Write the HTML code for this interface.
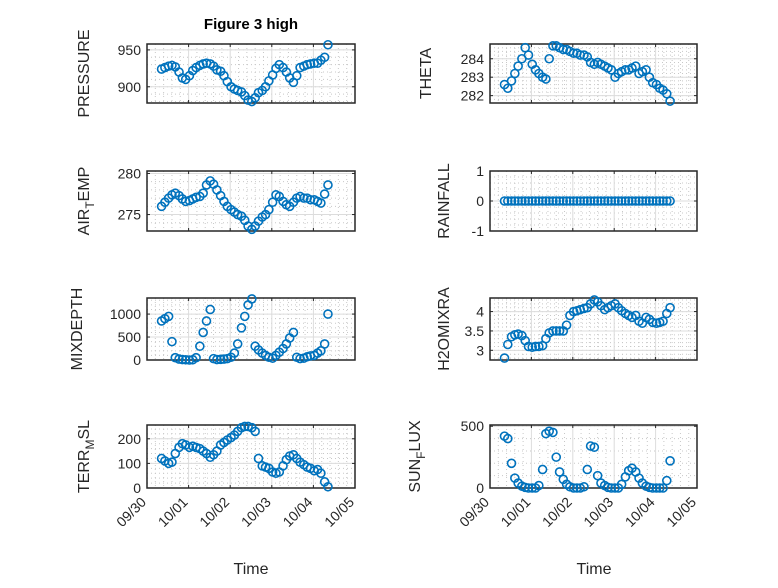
<!DOCTYPE html>
<html><head><meta charset="utf-8"><style>
html,body{margin:0;padding:0;background:#fff;}
svg text{font-family:"Liberation Sans",sans-serif;fill:#262626;}
</style></head><body>
<svg id="fig" width="778" height="583" viewBox="0 0 778 583" xmlns="http://www.w3.org/2000/svg">
<rect x="0" y="0" width="778" height="583" fill="#fff"/>
<text x="251" y="29" text-anchor="middle" font-size="15" font-weight="bold" style="fill:#000">Figure 3 high</text>
<text x="251" y="574" text-anchor="middle" font-size="16">Time</text>
<text x="594" y="574" text-anchor="middle" font-size="16">Time</text>
</svg>
<script>
// time in days since 09/30, 2-hour steps
const times = [0.35,0.43,0.52,0.60,0.68,0.77,0.85,0.93,1.02,1.10,1.18,1.27,1.35,1.43,1.52,1.60,1.68,1.77,1.85,1.93,2.02,2.10,2.18,2.27,2.35,2.43,2.52,2.60,2.68,2.77,2.85,2.93,3.02,3.10,3.18,3.27,3.35,3.43,3.52,3.60,3.68,3.77,3.85,3.93,4.02,4.10,4.18,4.27,4.35];
const xTickLabels = ["09/30","10/01","10/02","10/03","10/04","10/05"];
const pressure = [924,926,928,929,927,920,912,910,915,922,926,929,931,932,931,928,923,921,915,907,900,897,895,893,888,882,880,885,892,895,900,908,916,925,930,926,920,912,906,915,926,928,930,931,932,932,936,940,957];
const airTemp = [276.0,276.5,277.0,277.4,277.6,277.3,276.9,276.6,276.7,276.9,277.1,277.2,277.6,278.6,279.1,278.7,278.0,277.3,276.6,276.0,275.6,275.3,275.0,274.8,274.3,273.6,273.2,273.6,274.2,274.7,275.0,275.6,276.5,277.4,277.2,276.6,276.2,276.0,276.5,277.0,277.2,277.0,277.0,276.8,276.8,276.6,276.4,277.5,278.6];
const theta = [282.6,282.4,282.8,283.2,283.6,284.0,284.6,284.2,283.7,283.4,283.2,283.0,282.9,284.0,284.7,284.7,284.6,284.5,284.5,284.4,284.3,284.3,284.2,284.2,284.1,283.8,283.7,283.8,283.7,283.6,283.5,283.4,283.0,283.2,283.3,283.4,283.4,283.5,283.6,283.2,283.3,283.4,283.0,282.7,282.6,282.4,282.3,282.1,281.7];
const rainfall = [0,0,0,0,0,0,0,0,0,0,0,0,0,0,0,0,0,0,0,0,0,0,0,0,0,0,0,0,0,0,0,0,0,0,0,0,0,0,0,0,0,0,0,0,0,0,0,0,0];
const mixDepth = [850,900,950,400,50,20,10,5,0,5,50,300,600,850,1100,30,10,15,20,30,60,150,350,700,950,1200,1330,300,220,150,100,60,40,100,170,250,350,480,600,60,30,40,70,90,100,150,200,350,1000];
const h2oMixRa = [2.8,3.15,3.35,3.4,3.42,3.38,3.25,3.1,3.08,3.1,3.1,3.12,3.3,3.45,3.5,3.5,3.5,3.5,3.65,3.9,4.0,4.02,4.05,4.08,4.1,4.2,4.3,4.25,4.15,4.05,4.1,4.15,4.2,4.1,4.02,3.95,3.9,3.85,3.9,3.75,3.7,3.85,3.8,3.72,3.7,3.72,3.75,3.95,4.1];
const terrMsl = [120,110,100,105,140,165,180,175,165,170,165,160,150,140,125,135,150,175,185,195,205,215,230,245,250,250,245,230,120,90,85,80,65,60,65,90,115,130,135,120,105,95,85,80,70,75,60,25,5];
const sunFlux = [420,400,200,80,40,15,5,0,0,0,20,150,440,460,450,250,130,70,30,10,0,0,0,10,150,340,330,100,40,20,5,0,0,0,30,90,140,160,130,80,40,15,5,0,0,0,0,60,220];

const panels = [
 {name:"pressure",label:["PRESSURE"],data:pressure,col:0,row:0,ylim:[878,958],ticks:[900,950],lx:89},
 {name:"theta",label:["THETA"],data:theta,col:1,row:0,ylim:[281.6,284.8],ticks:[282,283,284],lx:431},
 {name:"air-temp",label:["AIR","T","EMP"],data:airTemp,col:0,row:1,ylim:[273,280.3],ticks:[275,280],lx:89},
 {name:"rainfall",label:["RAINFALL"],data:rainfall,col:1,row:1,ylim:[-1,1],ticks:[-1,0,1],lx:449},
 {name:"mixdepth",label:["MIXDEPTH"],data:mixDepth,col:0,row:2,ylim:[0,1350],ticks:[0,500,1000],lx:82},
 {name:"h2omixra",label:["H2OMIXRA"],data:h2oMixRa,col:1,row:2,ylim:[2.75,4.35],ticks:[3,3.5,4],lx:449},
 {name:"terr-msl",label:["TERR","M","SL"],data:terrMsl,col:0,row:3,ylim:[0,256],ticks:[0,100,200],lx:89},
 {name:"sun-flux",label:["SUN","F","LUX"],data:sunFlux,col:1,row:3,ylim:[0,510],ticks:[0,500],lx:420}
];
const colX = [[147,355],[490,697]];
const rowY = [[44,103],[171,231],[298,360],[425,488]];
const NS = "http://www.w3.org/2000/svg";
const svg = document.getElementById("fig");
function mk(tag, attrs, parent){ const e=document.createElementNS(NS,tag); for(const k in attrs) e.setAttribute(k,attrs[k]); (parent||svg).appendChild(e); return e; }

panels.forEach(p=>{
  const [x0,x1]=colX[p.col], [y0,y1]=rowY[p.row];
  const xs = t => x0 + (t-0)/(5-0)*(x1-x0);
  const ys = v => y1 - (v-p.ylim[0])/(p.ylim[1]-p.ylim[0])*(y1-y0);
  const g = mk("g",{});
  
  
  for(let d=0; d<5; d++) for(let k=1;k<5;k++){
    const x=xs(d+k/5);
    mk("line",{x1:x,x2:x,y1:y0,y2:y1,stroke:"#c8c8c8","stroke-width":1,"stroke-dasharray":"1,3"},g);
  }
  const step=p.ticks[1]-p.ticks[0];
  for(let v=p.ticks[0]-step; v<=p.ylim[1]+1e-9; v+=step/5){
    if(v<p.ylim[0]-1e-9) continue;
    const y=ys(v);
    mk("line",{x1:x0,x2:x1,y1:y,y2:y,stroke:"#c8c8c8","stroke-width":1,"stroke-dasharray":"1,3"},g);
  }
  for(let d=1; d<5; d++){ const x=xs(d); mk("line",{x1:x,x2:x,y1:y0,y2:y1,stroke:"#dcdcdc","stroke-width":1},g); }
  p.ticks.forEach(v=>{ const y=ys(v); mk("line",{x1:x0,x2:x1,y1:y,y2:y,stroke:"#dcdcdc","stroke-width":1},g);});
  mk("rect",{x:x0,y:y0,width:x1-x0,height:y1-y0,fill:"none",stroke:"#262626","stroke-width":1.5},g);
  for(let d=0; d<=5; d++){ const x=xs(d);
    mk("line",{x1:x,x2:x,y1:y1,y2:y1-3,stroke:"#262626","stroke-width":1},g);
    mk("line",{x1:x,x2:x,y1:y0,y2:y0+3,stroke:"#262626","stroke-width":1},g);
  }
  p.ticks.forEach(v=>{ const y=ys(v);
    mk("line",{x1:x0,x2:x0+3,y1:y,y2:y,stroke:"#262626","stroke-width":1},g);
    mk("line",{x1:x1,x2:x1-3,y1:y,y2:y,stroke:"#262626","stroke-width":1},g);
    const t=mk("text",{x:x0-6,y:y+5,"text-anchor":"end","font-size":14},g);
    t.textContent=String(v);
    
    
  });
  if(p.row===3){
    xTickLabels.forEach((lab,i)=>{
      const x=xs(i);
      const t=mk("text",{x:x,y:y1+15,"text-anchor":"end","font-size":14,transform:`rotate(-45 ${x} ${y1+15})`},g);
      t.textContent=lab;
      
      
    });
  }
  const cy=(y0+y1)/2;
  const yl=mk("text",{x:p.lx,y:cy,"text-anchor":"middle","font-size":16,transform:`rotate(-90 ${p.lx} ${cy})`},g);
  
  
  if(p.label.length===1){ yl.textContent=p.label[0]; }
  else {
    const a=mk("tspan",{},yl); a.textContent=p.label[0];
    const b=mk("tspan",{"font-size":12,dy:5},yl); b.textContent=p.label[1];
    const c=mk("tspan",{dy:-5},yl); c.textContent=p.label[2];
  }
  const mg=mk("g",{},g);
  
  
  times.forEach((t,i)=>{
    const c=mk("circle",{cx:xs(t),cy:ys(p.data[i]),r:4,fill:"none",stroke:"#0072BD","stroke-width":1.6},mg);
    
    
  });
});
</script>
</body></html>
